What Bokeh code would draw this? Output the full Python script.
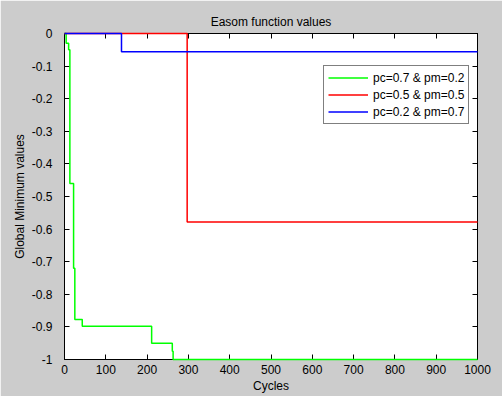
from bokeh.plotting import figure
from bokeh.models import (Range1d, LinearAxis, FixedTicker, Legend, LegendItem,
                          CustomJSTickFormatter)
from bokeh.embed import file_html
from bokeh.resources import INLINE

# ---- data ----
green_x = [0, 4, 10, 13, 22, 25, 43, 211, 261, 263, 1000]
green_y = [0, -0.03, -0.05, -0.46, -0.72, -0.877, -0.898, -0.95, -0.975, -1.0, -1.0]
red_x = [0, 297, 1000]
red_y = [0, -0.578, -0.578]
blue_x = [0, 138, 1000]
blue_y = [0, -0.056, -0.056]

series_labels = ["pc=0.7 & pm=0.2", "pc=0.5 & pm=0.5", "pc=0.2 & pm=0.7"]

x_ticks = [0, 100, 200, 300, 400, 500, 600, 700, 800, 900, 1000]
x_tick_labels = ["0", "100", "200", "300", "400", "500", "600", "700", "800", "900", "1000"]
y_ticks = [0, -0.1, -0.2, -0.3, -0.4, -0.5, -0.6, -0.7, -0.8, -0.9, -1]
y_tick_labels = ["0", "-0.1", "-0.2", "-0.3", "-0.4", "-0.5", "-0.6", "-0.7", "-0.8", "-0.9", "-1"]

FONT = "Liberation Sans"
BG = "#CCCCCC"

p = figure(width=502, height=396, output_backend="svg", toolbar_location=None,
           x_range=Range1d(0, 1000), y_range=Range1d(-1, 0),
           min_border_left=64, min_border_right=25, min_border_top=33,
           min_border_bottom=37, title="Easom function values")

p.background_fill_color = "white"
p.border_fill_color = BG
p.outline_line_color = "black"
p.outline_line_width = 1
p.grid.visible = False

p.title.align = "center"
p.title.text_font = FONT
p.title.text_font_size = "12px"
p.title.text_font_style = "normal"
p.title.text_color = "black"

def style_axis(ax):
    ax.major_tick_in = 5
    ax.major_tick_out = 0
    ax.minor_tick_in = 0
    ax.minor_tick_out = 0
    ax.axis_line_color = "black"
    ax.major_tick_line_color = "black"
    ax.major_label_text_font = FONT
    ax.major_label_text_font_size = "12px"
    ax.major_label_text_color = "black"
    ax.axis_label_text_font = FONT
    ax.axis_label_text_font_size = "12px"
    ax.axis_label_text_font_style = "normal"
    ax.axis_label_text_color = "black"

xa = p.xaxis[0]
xa.ticker = FixedTicker(ticks=x_ticks)
xa.major_label_overrides = {t: l for t, l in zip(x_ticks, x_tick_labels)}
xa.axis_label = "Cycles"
style_axis(xa)
xa.major_label_standoff = 5
xa.axis_label_standoff = 2

ya = p.yaxis[0]
ya.ticker = FixedTicker(ticks=y_ticks)
ya.major_label_overrides = {t: l for t, l in zip(y_ticks, y_tick_labels)}
ya.axis_label = "Global Minimum values"
style_axis(ya)
ya.major_label_standoff = 12
ya.axis_label_standoff = 2

blank = CustomJSTickFormatter(code="return ''")
top = LinearAxis(ticker=FixedTicker(ticks=x_ticks), formatter=blank)
style_axis(top)
top.major_label_standoff = 0
p.add_layout(top, "above")
right = LinearAxis(ticker=FixedTicker(ticks=y_ticks), formatter=blank)
style_axis(right)
right.major_label_standoff = 0
p.add_layout(right, "right")

rg = p.step(green_x, green_y, mode="after", line_color="#00FF00", line_width=1.5, level="overlay")
rr = p.step(red_x, red_y, mode="after", line_color="#FF0000", line_width=1.5, level="overlay")
rb = p.step(blue_x, blue_y, mode="after", line_color="#0000FF", line_width=1.5, level="overlay")

legend = Legend(items=[LegendItem(label=series_labels[0], renderers=[rg]),
                       LegendItem(label=series_labels[1], renderers=[rr]),
                       LegendItem(label=series_labels[2], renderers=[rb])],
                location=(259, 235))
legend.label_text_font = FONT
legend.label_text_font_size = "12px"
legend.label_text_color = "black"
legend.border_line_color = "black"
legend.border_line_width = 1
legend.background_fill_color = "white"
legend.background_fill_alpha = 1
legend.padding = 4
legend.spacing = 2
legend.margin = 0
legend.glyph_width = 40
legend.glyph_height = 15
legend.label_height = 15
legend.label_standoff = 5
p.add_layout(legend, "center")

open("out.html", "w").write(file_html(p, INLINE))
